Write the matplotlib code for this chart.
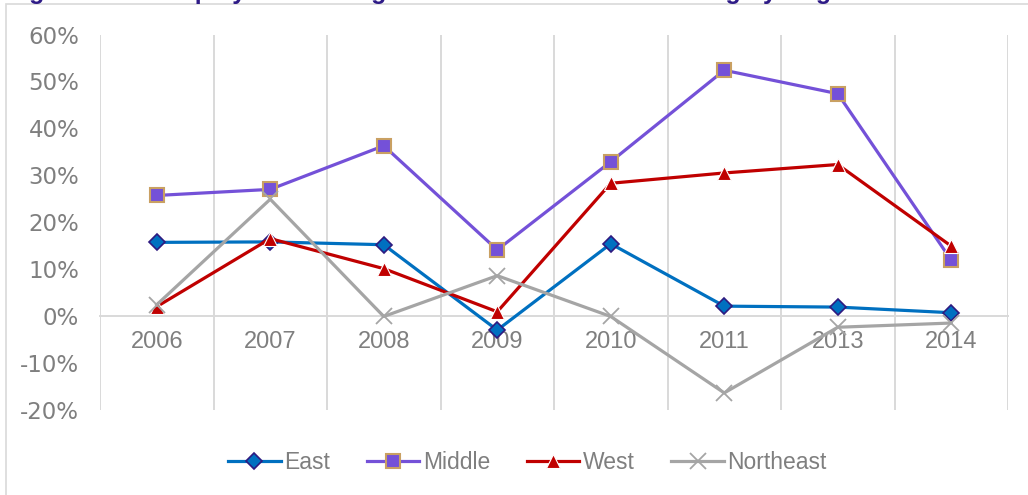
import matplotlib
matplotlib.use('Agg')
from matplotlib import pyplot as plt
from matplotlib.patches import Rectangle
import matplotlib.ticker as ticker

years = ['2006', '2007', '2008', '2009', '2010', '2011', '2013', '2014']
east = [15.7, 15.8, 15.2, -3.0, 15.4, 2.1, 1.9, 0.7]
middle = [25.7, 27.0, 36.3, 14.1, 32.9, 52.4, 47.4, 11.9]
west = [2.0, 16.5, 10.1, 0.9, 28.3, 30.5, 32.3, 14.9]
northeast = [2.4, 24.9, -0.1, 8.6, -0.1, -16.4, -2.4, -1.5]

fig = plt.figure(figsize=(10.28, 4.95), dpi=100)
ax = fig.add_axes([100/1028, 1 - 409.8/495, 908/1028, 375.2/495])

plt.rcParams['font.family'] = ['Liberation Sans', 'DejaVu Sans']
grey = '#7f7f7f'

# caption sits above the chart box, only its descenders show (as in the source)
fig.text(7/1028, 1 + 1.5/495, 'Figure 5-12: Employment change rate of urban manufacturing by Region',
         ha='left', va='baseline', fontsize=18, fontweight='bold', color='#2e1b87',
         family='Liberation Sans')

# chart border
fig.patches.append(Rectangle((6/1028, -0.05), 1.1, 1.05 - 4/495, transform=fig.transFigure,
                             fill=False, edgecolor='#d9d9d9', linewidth=1.2, zorder=0))

x = list(range(len(years)))
ax.plot(x, east, color='#0070c0', lw=2.3, marker='D', ms=7.8, mfc='#0070c0',
        mec='#2e1a80', mew=1.2, label='East', zorder=3)
ax.plot(x, middle, color='#7451d8', lw=2.3, marker='s', ms=10.5, mfc='#7451d8',
        mec='#c9a062', mew=1.5, label='Middle', zorder=4)
ax.plot(x, west, color='#c00000', lw=2.3, marker='^', ms=10, mfc='#c00000',
        mec='white', mew=0.8, label='West', zorder=5)
ax.plot(x, northeast, color='#a5a5a5', lw=2.3, marker='x', ms=11, mec='#a5a5a5',
        mew=1.3, label='Northeast', zorder=6)

ax.set_xlim(-0.5, len(years) - 0.5)
ax.set_ylim(-20, 60)
ax.yaxis.set_major_locator(ticker.MultipleLocator(10))
ax.yaxis.set_major_formatter(ticker.FuncFormatter(lambda v, p: '%d%%' % v))
ax.set_xticks(x)
ax.set_xticklabels(years)
ax.xaxis.set_minor_locator(ticker.FixedLocator([i - 0.5 for i in range(len(years) + 1)]))
ax.grid(which='minor', axis='x', color='#d9d9d9', linewidth=1.4)
ax.set_axisbelow(True)

for s in ['top', 'right', 'left']:
    ax.spines[s].set_visible(False)
ax.spines['bottom'].set_position(('data', 0))
ax.spines['bottom'].set_color('#d9d9d9')
ax.spines['bottom'].set_linewidth(1.4)
ax.spines['bottom'].set_zorder(1)

ax.tick_params(axis='both', which='both', length=0)
ax.tick_params(axis='y', pad=15, labelsize=16.5, labelcolor=grey)
ax.tick_params(axis='x', pad=11, labelsize=17, labelcolor=grey)

fig.legend(loc='center', bbox_to_anchor=(0.513, 0.066), ncol=4, frameon=False,
           fontsize=16.5, labelcolor=grey, handlelength=2.3, handletextpad=0.15,
           columnspacing=1.6)

fig.savefig('out.png', dpi=100)
